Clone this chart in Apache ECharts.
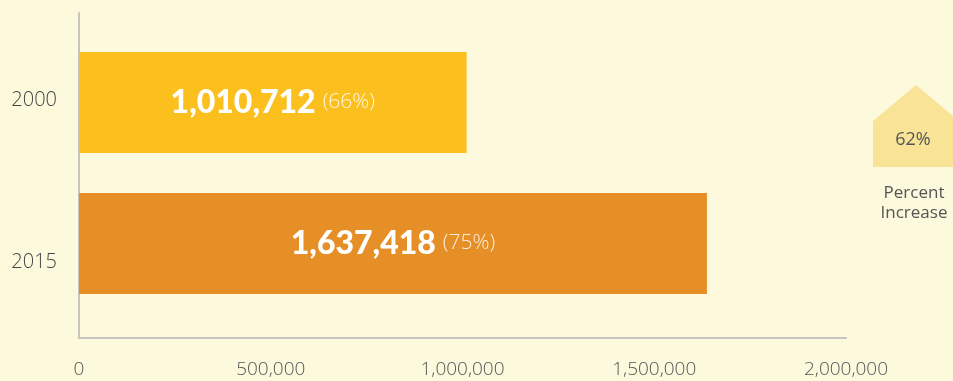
<!DOCTYPE html>
<html>
<head>
<meta charset="utf-8">
<script src="https://cdn.jsdelivr.net/npm/echarts@6/dist/echarts.min.js"></script>
<style>
  html, body { margin: 0; padding: 0; background: #fdf9dc; }
  #chart { width: 953px; height: 381px; }
</style>
</head>
<body>
<div id="chart"></div>
<script>
// Years shown on the category axis (top to bottom)
const years = ['2000', '2015'];
// Totals for each year
const totals = [1010712, 1637418];
// Share shown in brackets next to each total
const sharePct = [66, 75];
// Bar fills, one per year
const barColors = ['#fbbf1e', '#e68f26'];
// Value axis ticks
const xTicks = [0, 500000, 1000000, 1500000, 2000000];

const fmt = v => v.toLocaleString('en-US');
const increase = Math.round((totals[1] / totals[0] - 1) * 100);

const FONT = '"Open Sans", Lato, sans-serif';
const BOLD = 'Lato, "Open Sans", sans-serif';
const xMin = xTicks[0], xMax = xTicks[xTicks.length - 1];
const xStep = xTicks[1] - xTicks[0];

const chart = echarts.init(document.getElementById('chart'), null, { renderer: 'canvas' });

chart.setOption({
  backgroundColor: '#fdf9dc',
  animation: false,
  grid: [
    // frame: axis lines and tick labels
    { left: 79, top: 13, width: 767, height: 325 },
    // bars
    { left: 79, top: 32, width: 767, height: 282 }
  ],
  xAxis: [
    {
      gridIndex: 0, type: 'value', min: xMin, max: xMax, interval: xStep,
      axisLine: { show: true, lineStyle: { color: '#c6c5bd', width: 2 } },
      axisTick: { show: false },
      splitLine: { show: false },
      axisLabel: {
        margin: 22, color: '#555', fontFamily: FONT, fontWeight: 300, fontSize: 19,
        formatter: v => fmt(v)
      }
    },
    {
      gridIndex: 1, type: 'value', min: xMin, max: xMax, interval: xStep,
      show: false
    }
  ],
  yAxis: [
    {
      gridIndex: 0, type: 'category', data: years, inverse: true,
      axisLine: { show: true, lineStyle: { color: '#c6c5bd', width: 2 } },
      axisTick: { show: false },
      axisLabel: {
        margin: 22, color: '#444', fontFamily: FONT, fontWeight: 300, fontSize: 20,
        verticalAlign: 'top', lineHeight: 12
      }
    },
    {
      gridIndex: 1, type: 'category', data: years, inverse: true, show: false
    }
  ],
  series: [
    {
      type: 'bar',
      xAxisIndex: 1, yAxisIndex: 1,
      barWidth: 101,
      data: totals.map((v, i) => ({
        value: v,
        itemStyle: { color: barColors[i] }
      })),
      label: {
        show: true,
        position: 'inside',
        formatter: p => '{v|' + fmt(p.value) + '}{p|(' + sharePct[p.dataIndex] + '%)}',
        rich: {
          v: { color: '#ffffff', fontFamily: BOLD, fontWeight: 900, fontSize: 32 },
          p: {
            color: 'rgba(255,255,255,0.85)', fontFamily: FONT, fontWeight: 300, fontSize: 21,
            padding: [0, 0, 0, 7]
          }
        }
      }
    }
  ],
  graphic: [
    {
      type: 'polygon',
      shape: { points: [[873, 121], [916, 85], [959, 121], [959, 167], [873, 167]] },
      style: { fill: '#f8e397' },
      silent: true
    },
    {
      type: 'text',
      x: 913, y: 140,
      style: {
        text: increase + '%', fill: '#555', font: '400 18px ' + FONT,
        align: 'center', verticalAlign: 'middle'
      }
    },
    {
      type: 'text',
      x: 914, y: 203,
      style: {
        text: 'Percent\nIncrease', fill: '#555', font: '400 17px ' + FONT,
        align: 'center', verticalAlign: 'middle', lineHeight: 20
      }
    }
  ]
});
</script>
</body>
</html>
